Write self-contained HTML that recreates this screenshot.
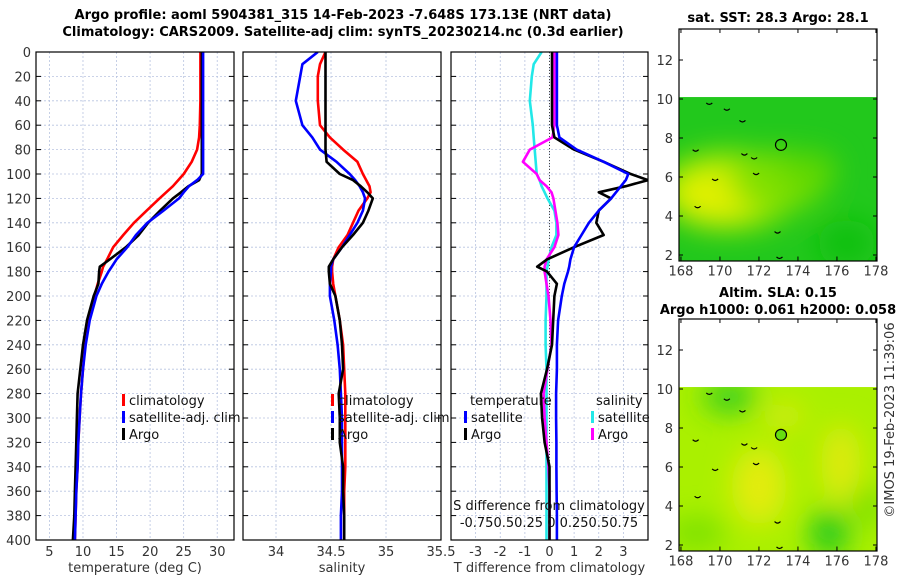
<!DOCTYPE html>
<html><head><meta charset="utf-8"><style>
body{margin:0;background:#fff}
svg{display:block;font-family:"DejaVu Sans","Liberation Sans",sans-serif}
</style></head><body>
<svg id="chart" width="900" height="580" viewBox="0 0 900 580" xmlns="http://www.w3.org/2000/svg">
<defs>
<filter id="blur1" x="-50%" y="-50%" width="200%" height="200%"><feGaussianBlur stdDeviation="14"/></filter>
<clipPath id="clipM1"><rect x="679" y="97" width="198" height="164"/></clipPath>
<clipPath id="clipM2"><rect x="679" y="387" width="198" height="164"/></clipPath>
<clipPath id="clipP1"><rect x="36" y="52" width="198" height="488"/></clipPath>
<clipPath id="clipP2"><rect x="243" y="52" width="198" height="488"/></clipPath>
<clipPath id="clipP3"><rect x="451" y="52" width="197" height="488"/></clipPath>
</defs>
<g font-weight="bold" font-size="13" text-anchor="middle" fill="#000">
<text x="343" y="19">Argo profile: aoml 5904381_315 14-Feb-2023 -7.648S 173.13E (NRT data)</text>
<text x="343" y="36">Climatology: CARS2009. Satellite-adj clim: synTS_20230214.nc (0.3d earlier)</text>
</g>
<g id="panels"></g>
<g id="maps"></g>
<text transform="translate(894,420) rotate(-90)" text-anchor="middle" font-size="13" fill="#333">©IMOS 19-Feb-2023 11:39:06</text>
</svg>
<script>
// ---------- DATA ----------
const depths = [0,10,20,40,60,70,80,90,100,105,110,115,120,130,140,150,160,170,176,180,190,200,220,240,260,280,300,320,340,360,380,400];
const tempClim = [27.5,27.5,27.5,27.5,27.4,27.3,27.0,26.2,25.0,24.2,23.4,22.4,21.4,19.5,17.6,16.0,14.5,13.6,13.0,12.8,12.2,11.7,10.9,10.3,10.0,9.7,9.5,9.3,9.2,9.0,8.9,8.8];
const tempSat  = [27.9,27.9,27.9,27.9,27.9,27.9,27.9,27.9,27.9,27.0,25.8,25.0,24.3,22.0,19.6,17.9,16.6,15.0,14.3,13.8,12.8,12.0,11.0,10.4,10.0,9.7,9.5,9.3,9.2,9.0,8.9,8.8];
const tempArgo = [27.7,27.7,27.7,27.7,27.7,27.7,27.7,27.7,27.7,27.3,25.7,24.6,23.4,21.5,19.7,18.3,16.4,14.0,12.5,12.4,12.3,11.6,10.6,10.0,9.6,9.2,9.1,9.0,8.9,8.8,8.7,8.5];
const salClim = [34.45,34.40,34.38,34.38,34.40,34.49,34.61,34.74,34.79,34.82,34.85,34.86,34.83,34.75,34.70,34.65,34.57,34.52,34.51,34.51,34.52,34.54,34.58,34.61,34.62,34.63,34.63,34.63,34.63,34.62,34.62,34.62];
const salSat  = [34.38,34.24,34.22,34.18,34.24,34.33,34.40,34.55,34.67,34.72,34.76,34.79,34.81,34.79,34.74,34.67,34.60,34.52,34.50,34.50,34.49,34.49,34.53,34.56,34.58,34.59,34.60,34.60,34.60,34.60,34.59,34.59];
const salArgo = [34.45,34.45,34.45,34.45,34.45,34.45,34.45,34.46,34.58,34.70,34.77,34.83,34.88,34.84,34.79,34.70,34.60,34.52,34.48,34.48,34.49,34.54,34.58,34.60,34.61,34.57,34.58,34.58,34.61,34.61,34.62,34.62];
const tDiffSat  = [0.3,0.3,0.3,0.3,0.3,0.4,1.1,2.2,3.2,3.1,2.9,2.7,2.5,2.0,1.6,1.3,1.0,0.85,0.8,0.75,0.6,0.5,0.35,0.3,0.3,0.27,0.27,0.28,0.28,0.29,0.3,0.3];
const tDiffArgo = [0.1,0.1,0.1,0.1,0.1,0.2,1.0,2.2,3.3,4.0,3.1,2.0,2.5,2.0,1.9,2.2,1.0,-0.1,-0.5,-0.1,0.3,0.2,0.15,0.1,-0.1,-0.35,-0.3,-0.2,0.0,0.0,0.0,0.0];
const sDiffSat  = [-0.08,-0.16,-0.18,-0.2,-0.17,-0.16,-0.15,-0.14,-0.13,-0.1,-0.08,-0.05,-0.02,0.05,0.07,0.07,0.02,-0.01,-0.02,-0.03,-0.03,-0.03,-0.04,-0.04,-0.03,-0.03,-0.03,-0.03,-0.03,-0.03,-0.03,-0.03];
const sDiffArgo = [0.05,0.05,0.05,0.05,0.05,0.03,-0.2,-0.27,-0.13,-0.1,-0.03,0.02,0.04,0.06,0.08,0.09,0.05,-0.03,-0.05,-0.05,-0.03,-0.01,0.01,0.02,-0.02,-0.06,-0.05,-0.03,-0.01,0.0,0.0,0.0];
const depthTicks = [0,20,40,60,80,100,120,140,160,180,200,220,240,260,280,300,320,340,360,380,400];
const tempTicks = [5,10,15,20,25,30];
const salTicks = [34,34.5,35,35.5];
const diffTicks = [-3,-2,-1,0,1,2,3];
const lonTicks = [168,170,172,174,176,178];
const latTicks = [2,4,6,8,10,12];

const NS="http://www.w3.org/2000/svg";
function mk(tag,attrs,parent){const e=document.createElementNS(NS,tag);for(const k in attrs)e.setAttribute(k,attrs[k]);if(parent)parent.appendChild(e);return e;}
const yD = d => 52 + d*(488/400);
const panels=document.getElementById('panels');

function drawPanel(cfg){
  const g=mk('g',{},panels);
  
  
  const {x0,w,xmin,xmax}=cfg;
  const sx=v=>x0+(v-xmin)*w/(xmax-xmin);
  depthTicks.forEach(d=>{mk('line',{x1:x0,x2:x0+w,y1:yD(d),y2:yD(d),stroke:'#b8c4e0','stroke-width':0.8,'stroke-dasharray':'2,2'},g);});
  cfg.ticks.forEach(t=>{if(t>xmin&&t<xmax)mk('line',{x1:sx(t),x2:sx(t),y1:52,y2:540,stroke:'#b8c4e0','stroke-width':0.8,'stroke-dasharray':'2,2'},g);});
  depthTicks.forEach(d=>{mk('line',{x1:x0,x2:x0+5,y1:yD(d),y2:yD(d),stroke:'#000'},g);mk('line',{x1:x0+w-5,x2:x0+w,y1:yD(d),y2:yD(d),stroke:'#000'},g);
    if(cfg.ylabels){const t=mk('text',{x:x0-5,y:yD(d)+5,'text-anchor':'end','font-size':13,fill:'#333'},g);t.textContent=d;
      
      }});
  cfg.ticks.forEach(t=>{const x=sx(t);
    const lab=mk('text',{x:Math.min(x,x0+w+6),y:556,'text-anchor':'middle','font-size':13,fill:'#333'},g);lab.textContent=t;
    
    });
  const xl=mk('text',{x:x0+w/2,y:572,'text-anchor':'middle','font-size':13,fill:'#333'},g);xl.textContent=cfg.xlabel;
  
  
  if(cfg.zero){mk('line',{x1:sx(0),x2:sx(0),y1:52,y2:540,stroke:'#444','stroke-width':1,'stroke-dasharray':'1,2'},g);}
  const sg=mk('g',{'clip-path':'url(#'+cfg.clip+')'},g);
  cfg.series.forEach(s=>{
    const sc=s.scale||1;
    const pts=depths.map((d,i)=>(x0+(s.vals[i]*sc-xmin)*w/(xmax-xmin)).toFixed(1)+','+yD(d).toFixed(1)).join(' ');
    const p=mk('polyline',{points:pts,fill:'none',stroke:s.color,'stroke-width':2.6,'stroke-linejoin':'round'},sg);
    
    
  });
  mk('rect',{x:x0,y:52,width:w,height:488,fill:'none',stroke:'#000','stroke-width':1.2},g);
  return g;
}
const g1=drawPanel({name:'temperature-panel',x0:36,w:198,xmin:3,xmax:32.5,ticks:tempTicks,xlabel:'temperature (deg C)',ylabels:true,clip:'clipP1',
  series:[{vals:tempClim,color:'#f00',name:'temp-climatology-line'},{vals:tempArgo,color:'#000',name:'temp-argo-line'},{vals:tempSat,color:'#00f',name:'temp-satellite-line'}]});
const g2=drawPanel({name:'salinity-panel',x0:243,w:198,xmin:33.7,xmax:35.5,ticks:salTicks,xlabel:'salinity',clip:'clipP2',
  series:[{vals:salClim,color:'#f00',name:'sal-climatology-line'},{vals:salSat,color:'#00f',name:'sal-satellite-line'},{vals:salArgo,color:'#000',name:'sal-argo-line'}]});
const g3=drawPanel({name:'difference-panel',x0:451,w:197,xmin:-4,xmax:4,ticks:diffTicks,xlabel:'T difference from climatology',clip:'clipP3',zero:true,
  series:[{vals:sDiffSat,scale:4,color:'#22e8e8',name:'s-diff-satellite-line'},{vals:sDiffArgo,scale:4,color:'#f0f',name:'s-diff-argo-line'},{vals:tDiffArgo,color:'#000',name:'t-diff-argo-line'},{vals:tDiffSat,color:'#00f',name:'t-diff-satellite-line'}]});

function legend(g,x,y,items,name){
  const lg=mk('g',{},g);
  
  
  items.forEach((it,i)=>{
    if(it.color)mk('rect',{x:x,y:y+i*17-11,width:3,height:12,fill:it.color},lg);
    const t=mk('text',{x:x+(it.color?7:0),y:y+i*17,'font-size':13,fill:'#111'},lg);t.textContent=it.label;
    
    
  });
}
legend(g1,122,405,[{color:'#f00',label:'climatology'},{color:'#00f',label:'satellite-adj. clim'},{color:'#000',label:'Argo'}],'temperature-legend');
legend(g2,331,405,[{color:'#f00',label:'climatology'},{color:'#00f',label:'satellite-adj. clim'},{color:'#000',label:'Argo'}],'salinity-legend');
legend(g3,470,405,[{label:'temperature'}],'t-diff-legend-title');
legend(g3,464,422,[{color:'#00f',label:'satellite'},{color:'#000',label:'Argo'}],'t-diff-legend');
legend(g3,596,405,[{label:'salinity'}],'s-diff-legend-title');
legend(g3,591,422,[{color:'#22e8e8',label:'satellite'},{color:'#f0f',label:'Argo'}],'s-diff-legend');
const sl=mk('g',{'font-size':13,fill:'#111','text-anchor':'middle'},g3);


mk('text',{x:549,y:510},sl).textContent='S difference from climatology';
mk('text',{x:549,y:527},sl).textContent='-0.750.50.25 0 0.250.50.75';

// ---------- MAPS ----------
const maps=document.getElementById('maps');
function drawMap(cfg){
  const g=mk('g',{},maps);
  
  
  const top=cfg.top, lx=l=>679+(l-167.9)*19.5, ly=l=>cfg.lat2-(l-2)*19.5;
  const dg=mk('g',{'clip-path':'url(#'+cfg.clip+')'},g);
  mk('rect',{x:679,y:ly(10.1),width:198,height:cfg.lat2+5-ly(10.1)+1,fill:cfg.base},dg);
  const bg=mk('g',{filter:'url(#blur1)'},dg);
  cfg.blobs.forEach(b=>mk('ellipse',{cx:lx(b[0]),cy:ly(b[1]),rx:b[2]*19.5,ry:b[3]*19.5,fill:b[4]},bg));
  cfg.coast.forEach(c=>mk('path',{d:'M'+lx(c[0])+','+ly(c[1])+' q3,3 6,0',fill:'none',stroke:'#000','stroke-width':1.2},dg));
  const ci=mk('circle',{cx:lx(173.13),cy:ly(7.648),r:5.5,fill:cfg.circleFill,stroke:'#000','stroke-width':1.2},g);
  
  
  mk('rect',{x:679,y:top,width:198,height:cfg.lat2+5-top+1,fill:'none',stroke:'#000','stroke-width':1.2},g);
  const bottom=cfg.lat2+5.5;
  lonTicks.forEach(l=>{mk('line',{x1:lx(l),x2:lx(l),y1:bottom,y2:bottom-4,stroke:'#000'},g);mk('line',{x1:lx(l),x2:lx(l),y1:top,y2:top+4,stroke:'#000'},g);
    const t=mk('text',{x:lx(l),y:bottom+15,'text-anchor':'middle','font-size':13,fill:'#333'},g);t.textContent=l;
    
    });
  latTicks.forEach(l=>{mk('line',{x1:679,x2:683,y1:ly(l),y2:ly(l),stroke:'#000'},g);mk('line',{x1:873,x2:877,y1:ly(l),y2:ly(l),stroke:'#000'},g);
    const t=mk('text',{x:673,y:ly(l)+5,'text-anchor':'end','font-size':13,fill:'#333'},g);t.textContent=l;
    
    });
  cfg.titles.forEach((tt,i)=>{const t=mk('text',{x:cfg.tx,y:cfg.ty+i*17,'text-anchor':'middle','font-size':13,'font-weight':'bold',fill:'#000'},g);t.textContent=tt;
    
    });
}
const coastPts=[[169.3,9.8],[170.2,9.5],[171,8.9],[168.6,7.4],[171.1,7.2],[171.6,7.0],[169.6,5.9],[171.7,6.2],[168.7,4.5],[172.8,3.2],[172.9,1.9]];
drawMap({name:'sst-map',clip:'clipM1',top:29,lat2:255,base:'#22c81c',circleFill:'none',tx:778,ty:22,titles:['sat. SST: 28.3 Argo: 28.1'],coast:coastPts,
  blobs:[[170.5,5.3,3.6,2.0,'#a8ea00'],[169.8,5.0,2.2,1.4,'#e0f000'],[173.0,5.8,2.5,1.5,'#80e000'],[174.5,6.3,1.5,1.0,'#60d800'],[176.5,2.6,1.5,1.2,'#10c010']]});
drawMap({name:'sla-map',clip:'clipM2',top:319,lat2:545,base:'#aaf000',circleFill:'#66dd10',tx:778,ty:297,titles:['Altim. SLA: 0.15','Argo h1000: 0.061 h2000: 0.058'],coast:coastPts,
  blobs:[[170.5,9.6,1.4,0.8,'#30cc20'],[175.6,2.6,1.0,1.2,'#20c820'],[172.0,5.0,1.4,2.0,'#e4ec10'],[176.2,6.2,1.0,2.0,'#e0ea10'],[173.3,8.6,1.0,0.7,'#d8ea10'],[168.8,2.6,1.5,0.8,'#78e000'],[177.6,4.0,0.7,1.0,'#70dc00']]});
</script>
</body></html>
